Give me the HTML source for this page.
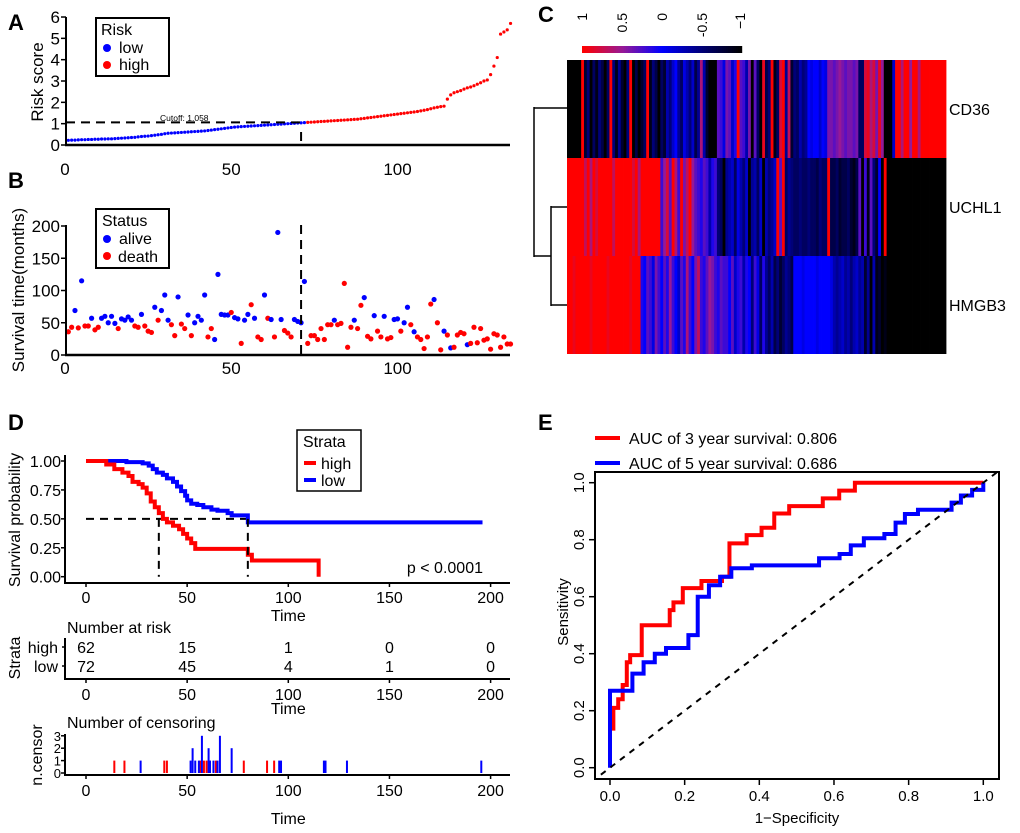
<!DOCTYPE html>
<html><head><meta charset="utf-8"><style>
html,body{margin:0;padding:0;background:#fff;}
svg{display:block;font-family:"Liberation Sans",Arial,sans-serif;}
</style></head><body>
<svg id="fig" width="1020" height="833" viewBox="0 0 1020 833" xmlns="http://www.w3.org/2000/svg"></svg>
<script>
// ---------- DATA ----------
const riskScores=[0.22,0.23,0.23,0.24,0.25,0.25,0.26,0.26,0.27,0.27,0.28,0.28,0.29,0.29,0.30,0.31,0.32,0.33,0.34,0.35,0.36,0.38,0.40,0.41,0.42,0.44,0.46,0.48,0.50,0.53,0.55,0.56,0.57,0.58,0.59,0.60,0.61,0.62,0.63,0.64,0.65,0.66,0.68,0.70,0.72,0.74,0.76,0.78,0.80,0.82,0.84,0.85,0.86,0.87,0.88,0.89,0.90,0.91,0.92,0.93,0.94,0.95,0.96,0.97,0.98,0.99,1.00,1.01,1.02,1.03,1.04,1.05,
1.06,1.07,1.08,1.09,1.10,1.11,1.12,1.13,1.14,1.15,1.16,1.17,1.18,1.19,1.20,1.21,1.23,1.25,1.27,1.29,1.31,1.33,1.35,1.37,1.39,1.41,1.43,1.45,1.47,1.49,1.51,1.53,1.55,1.57,1.60,1.63,1.66,1.70,1.74,1.77,
1.80,1.82,2.15,2.35,2.45,2.50,2.55,2.62,2.68,2.72,2.78,2.85,2.92,3.00,3.05,3.30,3.70,4.10,5.20,5.30,5.40,5.70];
const riskCutoff=1.058;
const lowCount=72;
const survTimes=[36,43,69,42,115,45,45,57,39,43,57,60,50,60,49,41,56,54,59,54,45,43,63,45,37,35,74,54,69,93,54,47,30,90,48,41,62,30,50,60,54,93,28,41,24,125,63,62,62,66,58,56,18,54,63,78,57,28,24,93,57,55,28,190,55,38,34,28,55,52,50,114,18,30,30,24,41,24,47,47,54,47,49,111,12,43,54,41,77,89,29,25,61,37,28,60,25,27,55,56,37,50,74,47,36,28,24,10,28,79,86,50,8,37,31,11,12,31,35,33,16,18,43,19,41,23,25,9,33,31,12,28,17,17];
const survStatus=[1,1,0,1,0,1,1,0,1,1,0,0,0,0,0,1,0,0,0,0,1,1,0,1,1,1,0,1,0,0,0,1,1,0,1,1,0,1,0,0,0,0,1,1,0,0,0,0,0,1,0,0,1,0,0,1,0,1,1,0,1,0,1,0,0,1,1,1,0,0,0,0,1,1,1,1,1,1,1,1,0,1,1,1,1,1,0,1,1,0,1,1,0,1,1,0,1,1,0,0,1,0,0,1,0,1,1,1,1,1,0,1,1,0,1,0,1,1,1,1,0,1,1,1,1,1,1,1,1,1,1,1,1,1];
const genes=["CD36","UCHL1","HMGB3"];
const heatCD36=[-1,-1,-1,-1,-1,1,-0.8,-0.5,-1,-0.6,-0.9,-0.5,-0.7,-1,-0.6,1,-0.5,-0.9,-0.4,-0.8,-1,-0.5,1,-1,-0.7,-1,-0.8,-0.6,1,-0.9,-0.5,-0.7,-1,-0.6,-0.8,-0.3,-0.5,-0.2,0,-0.4,-0.6,-0.1,-0.3,-0.5,-0.2,-0.7,-0.4,0.6,-0.3,-0.8,-1,-1,-1,0.3,0.2,-0.1,0.4,0.3,-0.2,0.1,1,0.3,0.2,-0.3,0.4,-1,0.3,-0.6,-1,0.9,-0.7,-0.5,1,-0.9,-0.6,0.8,1,-0.4,0.7,-0.8,-0.5,-0.6,-0.3,-0.5,-0.4,0,-0.1,0,0,-0.2,0,-0.1,0.4,0.4,0.3,0.4,0.5,0.4,0.3,0.4,0.4,0.3,0.4,-0.6,-0.6,0.8,0.9,0.6,0.8,0.4,0.9,0.5,-1,-1,-1,-0.2,1,1,0.6,1,1,0.5,1,1,0.6,1,1,1,1,1,1,1,1,1];
const heatUCHL1=[1,1,1,1,1,1,0.7,1,0.6,1,0.8,1,1,1,1,1,0.7,1,1,1,1,1,1,0.8,1,0.6,1,1,1,1,1,1,1,0.2,0.5,0.8,0.3,1,0.6,0.2,1,0.4,0.7,1,0.5,0.3,0.2,0.1,0.3,0.2,-0.3,0.1,0.2,-0.5,-0.6,-1,-0.4,-0.3,-0.2,-0.6,-0.1,-0.3,-0.5,-0.2,-1,-0.4,-0.3,-0.6,-0.2,-1,-0.3,-0.5,-0.4,-0.2,1,0.3,1,-0.6,-0.4,-0.5,-0.6,-0.6,-0.5,-0.6,-0.6,-0.5,-0.6,-0.6,-0.7,-0.5,-0.6,-0.6,1,-0.7,-0.7,-0.6,-0.8,-0.7,-0.7,-0.6,-0.8,-0.9,-0.7,0.3,-1,0.2,-0.9,0.3,-0.5,-0.8,0,-1,1,-1,-1,-1,-1,-1,-1,-1,-1,-1,-1,-1,-1,-1,-1,-1,-1,-1,-1,-1,-1,-1];
const heatHMGB3=[1,1,0.9,1,1,1,1,1,0.9,1,1,1,1,1,0.9,1,1,1,1,1,1,1,0.9,1,1,1,0.1,0,0.3,0.2,-0.1,0.4,0.2,0,0.3,0.1,0.5,0.2,0,-0.2,0.3,0.1,0.6,0.2,0,0.4,0.7,0.2,0.1,0.3,0.5,0.4,0.2,0.1,0.3,0.2,0.2,0,0.3,-0.2,0.1,0.2,-0.3,0.1,0,-0.5,0.2,-0.1,-0.6,0.1,-0.4,-0.6,-0.3,-0.7,-0.5,-0.8,-0.6,-0.4,-0.5,-0.7,0,0,0,-0.1,0,0,0,0,-0.1,0,0,0,0,-0.1,-0.3,-0.4,-0.3,-0.2,-0.4,-0.3,-0.5,-0.3,-0.2,-0.4,-0.3,-0.8,-0.4,-1,-0.3,-0.9,-0.8,-1,-0.9,-1,-1,-1,-1,-1,-1,-1,-1,-1,-1,-1,-1,-1,-1,-1,-1,-1,-1,-1,-1,-1];
const colorTicks=["1","0.5","0","-0.5","\u22121"];
const kmHighTimes=[0,10,14,18,21,23,26,28,30,32,34,36,38,40,43,46,48,50,52,54,80,82,115];
const kmHighSurv=[1,0.97,0.93,0.9,0.87,0.82,0.8,0.77,0.72,0.65,0.6,0.55,0.5,0.47,0.44,0.41,0.37,0.33,0.29,0.24,0.19,0.14,0];
const kmLowTimes=[0,20,28,31,33,35,38,40,43,45,47,49,50,52,55,58,62,65,70,72,80,196];
const kmLowSurv=[1,0.99,0.98,0.96,0.93,0.9,0.88,0.85,0.82,0.78,0.74,0.7,0.66,0.63,0.62,0.6,0.58,0.57,0.55,0.53,0.47,0.47];
const kmMedians=[36,80];
const riskTimes=[0,50,100,150,200];
const atRiskHigh=[62,15,1,0,0];
const atRiskLow=[72,45,4,1,0];
const censorHighTimes=[14,19,38.7,40,56.5,58.3,59.6,61.1,64.2,78,89.5,93];
const censorHighCounts=[1,1,1,1,1,1,1,1,1,1,1,1];
const censorLowTimes=[27,51.7,52.7,54,55.8,57.3,60.6,61.3,63,65,66.2,72,95.5,96.4,117.6,118.4,129,195.4];
const censorLowCounts=[1,1,2,1,1,3,2,1,1,1,3,2,1,1,1,1,1,1];
const roc3Fpr=[0.009,0.009,0.022,0.034,0.045,0.054,0.085,0.16,0.17,0.195,0.245,0.30,0.32,0.32,0.366,0.406,0.44,0.48,0.57,0.614,0.656,1];
const roc3Tpr=[0.13,0.21,0.24,0.29,0.37,0.395,0.5,0.553,0.58,0.63,0.655,0.67,0.68,0.787,0.816,0.842,0.892,0.918,0.945,0.972,1,1];
const roc5Fpr=[0,0,0.06,0.09,0.12,0.15,0.21,0.235,0.265,0.295,0.325,0.38,0.56,0.615,0.645,0.68,0.735,0.765,0.79,0.825,0.915,0.94,0.97,1,1];
const roc5Tpr=[0,0.27,0.33,0.37,0.40,0.42,0.465,0.6,0.64,0.67,0.70,0.71,0.735,0.75,0.78,0.805,0.82,0.86,0.89,0.905,0.93,0.955,0.975,0.975,1];
const rocTicks=[0,0.2,0.4,0.6,0.8,1.0];

// ---------- HELPERS ----------
const NS='http://www.w3.org/2000/svg';
const svg=document.getElementById('fig');
function mk(tag,attrs,parent){const e=document.createElementNS(NS,tag);for(const k in attrs)e.setAttribute(k,attrs[k]);(parent||svg).appendChild(e);return e;}
function tx(x,y,s,size,anchor,extra){const t=mk('text',Object.assign({x:x,y:y,'font-size':size,'text-anchor':anchor||'start',fill:'#000'},extra||{}));t.textContent=s;return t;}
function ln(x1,y1,x2,y2,w,extra){return mk('line',Object.assign({x1:x1,y1:y1,x2:x2,y2:y2,stroke:'#000','stroke-width':w||1},extra||{}));}
function group(){return mk('g',{});}

// panel labels
let e;
e=tx(8,30,'A',22,'start',{'font-weight':'bold'});


e=tx(8,188,'B',22,'start',{'font-weight':'bold'});


e=tx(538,22,'C',22,'start',{'font-weight':'bold'});


e=tx(8,430,'D',22,'start',{'font-weight':'bold'});


e=tx(538,430,'E',22,'start',{'font-weight':'bold'});



// ---------- PANEL A ----------
const xA=i=>65+i*3.325;
const yA=v=>145-v*21.33;
const gA=group();


e=ln(66,17,66,146,2,{},gA);


e=ln(65,145,510,145,2.5,{},gA);


for(let v=0;v<=6;v++){
  ln(61,yA(v),66,yA(v),1.5,{},gA);
  e=tx(60,yA(v)+6,String(v),17,'end',{},gA);
  
  
}
[0,50,100].forEach(v=>{
  e=tx(xA(v),175,String(v),17,'middle',{},gA);
  
  
});
e=tx(0,0,'Risk score',17,'middle',{transform:'translate(43,82) rotate(-90)'},gA);


e=ln(66,yA(riskCutoff),xA(71),yA(riskCutoff),2,{'stroke-dasharray':'9,6'},gA);


e=ln(xA(71),132,xA(71),142,2,{'stroke-dasharray':'9,6'},gA);


e=tx(160,121,'Cutoff: 1.058',8.5,'start',{},gA);


riskScores.forEach((v,k)=>{
  const i=k+1;
  const c=mk('circle',{cx:xA(i),cy:yA(v),r:1.6,fill:i<=lowCount?'#0000ff':'#ff0000'},gA);
  
  
});
e=mk('rect',{x:96,y:18,width:73,height:58,fill:'#fff',stroke:'#000','stroke-width':2},gA);


tx(101,35,'Risk',16,'start',{},gA);
mk('circle',{cx:107,cy:48,r:4,fill:'#0000ff'},gA);
e=tx(119,53,'low',16,'start',{},gA);


mk('circle',{cx:107,cy:65,r:4,fill:'#ff0000'},gA);
e=tx(119,70,'high',16,'start',{},gA);



// ---------- PANEL B ----------
const yB=v=>355-v*0.645;
const gB=group();


e=ln(66,225,66,356,2,{},gB);


e=ln(65,355,510,355,2.5,{},gB);


[0,50,100,150,200].forEach(v=>{
  ln(61,yB(v),66,yB(v),1.5,{},gB);
  e=tx(60,yB(v)+6,String(v),17,'end',{},gB);
  
  
});
[0,50,100].forEach(v=>{
  e=tx(xA(v),374,String(v),17,'middle',{},gB);
  
  
});
e=tx(0,0,'Survival time(months)',17,'middle',{transform:'translate(24,290) rotate(-90)'},gB);


e=ln(xA(71),225,xA(71),355,2,{'stroke-dasharray':'9,6'},gB);


survTimes.forEach((v,k)=>{
  const c=mk('circle',{cx:xA(k+1),cy:yB(v),r:2.6,fill:survStatus[k]?'#ff0000':'#0000ff'},gB);
  
  
});
e=mk('rect',{x:96,y:209,width:73,height:59,fill:'#fff',stroke:'#000','stroke-width':2},gB);


tx(102,226,'Status',16,'start',{},gB);
mk('circle',{cx:107,cy:239,r:4,fill:'#0000ff'},gB);
e=tx(119,244,'alive',16,'start',{},gB);


mk('circle',{cx:107,cy:256,r:4,fill:'#ff0000'},gB);
e=tx(118,262,'death',16,'start',{},gB);



// ---------- PANEL C ----------
const stops=[[-1,[0,0,0]],[-0.5,[0,0,120]],[0,[0,0,255]],[0.5,[150,25,150]],[1,[255,0,0]]];
function cmap(v){
  for(let k=0;k<stops.length-1;k++){const a=stops[k],b=stops[k+1];
    if(v<=b[0]){const t=(v-a[0])/(b[0]-a[0]);const c=a[1].map((q,j)=>Math.round(q+(b[1][j]-q)*t));return 'rgb('+c.join(',')+')';}}
  return 'rgb(255,0,0)';
}
const gC=group();


const hx0=567,hx1=946,hy=[60,158,256,354];
const heatRows=[heatCD36,heatUCHL1,heatHMGB3];
const cw=(hx1-hx0)/heatCD36.length;
heatRows.forEach((row,r)=>{
  row.forEach((v,c)=>{
    const cell=mk('rect',{x:hx0+c*cw,y:hy[r],width:cw+0.4,height:hy[r+1]-hy[r],fill:cmap(v)},gC);
    
    
  });
  const lab=tx(949,(hy[r]+hy[r+1])/2+6,genes[r],16,'start',{},gC);
  
  
});
// color bar
const cbx0=582,cbx1=742;
for(let k=0;k<80;k++){
  const v=1-2*k/79;
  const r=mk('rect',{x:cbx0+k*2,y:46,width:2.2,height:7,fill:cmap(v)},gC);
  
  
}
colorTicks.forEach((s,k)=>{
  const x=cbx0+k*(cbx1-cbx0)/4+(k==0?0:k==4?-2:0);
  const t=tx(0,0,s,14,'end',{transform:'translate('+(x+5)+',13) rotate(-90)'},gC);
  
  
});
// dendrogram
const dg=group();


ln(534,108,567,108,1.5,{},dg);
ln(551,207,567,207,1.5,{},dg);
ln(551,305,567,305,1.5,{},dg);
ln(551,206,551,306,1.5,{},dg);
ln(534,256,551,256,1.5,{},dg);
ln(534,107,534,257,1.5,{},dg);

// ---------- PANEL D ----------
const xD=t=>86+t*2.023;
const yD=s=>576.7-s*115.7;
const gD=group();


e=ln(65,455,65,583,2,{},gD);


e=ln(64,583,510,583,2,{},gD);


[0,0.25,0.5,0.75,1].forEach(v=>{
  ln(61,yD(v),65,yD(v),1.5,{},gD);
  e=tx(61,yD(v)+6,v.toFixed(2),16,'end',{},gD);
  
  
});
riskTimes.forEach(v=>{
  ln(xD(v),583,xD(v),587,1.5,{},gD);
  e=tx(xD(v),603,String(v),16,'middle',{},gD);
  
  
});
e=tx(xD(100),621,'Time',16,'middle',{},gD);


e=tx(0,0,'Survival probability',16,'middle',{transform:'translate(20,520) rotate(-90)'},gD);


function stepPath(xs,ys,fx,fy){let d='M'+fx(xs[0])+' '+fy(ys[0]);for(let k=1;k<xs.length;k++){d+=' H'+fx(xs[k])+' V'+fy(ys[k]);}return d;}
e=mk('path',{d:'M'+xD(0)+' '+yD(0.5)+' H'+xD(kmMedians[1]),stroke:'#000','stroke-width':2,'stroke-dasharray':'8,6',fill:'none'},gD);


kmMedians.forEach(m=>{
  const l=ln(xD(m),yD(0.5),xD(m),yD(0),2,{'stroke-dasharray':'8,6'},gD);
  
  
});
e=mk('path',{d:stepPath(kmLowTimes,kmLowSurv,xD,yD),stroke:'#0000ff','stroke-width':4,fill:'none'},gD);


e=mk('path',{d:stepPath(kmHighTimes,kmHighSurv,xD,yD),stroke:'#ff0000','stroke-width':4,fill:'none'},gD);


e=tx(483,573,'p < 0.0001',16,'end',{},gD);


e=mk('rect',{x:297,y:430,width:64,height:61,fill:'#fff',stroke:'#000','stroke-width':1.5},gD);


tx(303,447,'Strata',16,'start',{},gD);
ln(304,463,316,463,4,{stroke:'#ff0000'},gD);
e=tx(321,469,'high',16,'start',{},gD);


ln(304,480,316,480,4,{stroke:'#0000ff'},gD);
e=tx(321,486,'low',16,'start',{},gD);



// risk table
const gT=group();


tx(67,633,'Number at risk',16,'start',{},gT);
ln(65,638,65,679,2,{},gT);
ln(64,679,510,679,2,{},gT);
tx(58,653,'high',16,'end',{},gT);
tx(58,672,'low',16,'end',{},gT);
ln(62,647,65,647,1.5,{},gT);ln(62,666,65,666,1.5,{},gT);
riskTimes.forEach((t,k)=>{
  e=tx(xD(t),653,String(atRiskHigh[k]),16,'middle',{},gT);
  
  
  e=tx(xD(t),672,String(atRiskLow[k]),16,'middle',{},gT);
  
  
  ln(xD(t),679,xD(t),683,1.5,{},gT);
  tx(xD(t),700,String(t),16,'middle',{},gT);
});
tx(xD(100),714,'Time',16,'middle',{},gT);
tx(0,0,'Strata',16,'middle',{transform:'translate(20,658) rotate(-90)'},gT);

// censoring
const yCen=n=>773-n*12.4;
const gN=group();


tx(67,728,'Number of censoring',16,'start',{},gN);
ln(65,734,65,775,2,{},gN);
ln(64,775,510,775,2,{},gN);
[0,1,2,3].forEach(n=>{ln(61,yCen(n),65,yCen(n),1.5,{},gN);tx(61,yCen(n)+5,String(n),13,'end',{},gN);});
tx(0,0,'n.censor',16,'middle',{transform:'translate(42,755) rotate(-90)'},gN);
censorHighTimes.forEach((t,k)=>{
  const b=mk('rect',{x:xD(t)-1,y:yCen(censorHighCounts[k]),width:2,height:yCen(0)-yCen(censorHighCounts[k]),fill:'#ff0000'},gN);
  
  
});
censorLowTimes.forEach((t,k)=>{
  const b=mk('rect',{x:xD(t)-1,y:yCen(censorLowCounts[k]),width:2,height:yCen(0)-yCen(censorLowCounts[k]),fill:'#0000ff'},gN);
  
  
});
riskTimes.forEach(t=>{ln(xD(t),775,xD(t),779,1.5,{},gN);tx(xD(t),796,String(t),16,'middle',{},gN);});
tx(xD(100),824,'Time',16,'middle',{},gN);

// ---------- PANEL E ----------
const xE=f=>610+f*373.3;
const yE=s=>767.7-s*285;
const gE=group();


mk('clipPath',{id:'roc-clip'},gE).appendChild(document.createElementNS(NS,'rect'));
const cr=gE.querySelector('#roc-clip rect');cr.setAttribute('x',595);cr.setAttribute('y',472);cr.setAttribute('width',404);cr.setAttribute('height',307);
e=ln(xE(-0.05),yE(-0.05),xE(1.05),yE(1.05),2,{'stroke-dasharray':'6,6','clip-path':'url(#roc-clip)'},gE);


function vPath(xs,ys){let d='M'+xE(xs[0])+' '+yE(ys[0]);for(let k=1;k<xs.length;k++){d+=' H'+xE(xs[k])+' V'+yE(ys[k]);}return d;}
e=mk('path',{d:vPath(roc3Fpr,roc3Tpr),stroke:'#ff0000','stroke-width':4,fill:'none'},gE);


e=mk('path',{d:vPath(roc5Fpr,roc5Tpr),stroke:'#0000ff','stroke-width':4,fill:'none'},gE);


e=mk('rect',{x:595,y:472,width:404,height:307,fill:'none',stroke:'#000','stroke-width':2},gE);


rocTicks.forEach(v=>{
  ln(xE(v),779,xE(v),785,1.5,{},gE);
  e=tx(xE(v),801,v.toFixed(1),15,'middle',{},gE);
  
  
  ln(589,yE(v),595,yE(v),1.5,{},gE);
  e=tx(0,0,v.toFixed(1),15,'middle',{transform:'translate(584,'+yE(v)+') rotate(-90)'},gE);
  
  
});
e=tx(797,823,'1\u2212Specificity',15,'middle',{},gE);


e=tx(0,0,'Sensitivity',15,'middle',{transform:'translate(568,612) rotate(-90)'},gE);


ln(595,438,620,438,4,{stroke:'#ff0000'},gE);
e=tx(629,444,'AUC of 3 year survival: 0.806',16,'start',{},gE);


ln(595,463,620,463,4,{stroke:'#0000ff'},gE);
e=tx(629,469,'AUC of 5 year survival: 0.686',16,'start',{},gE);


</script>
</body></html>
